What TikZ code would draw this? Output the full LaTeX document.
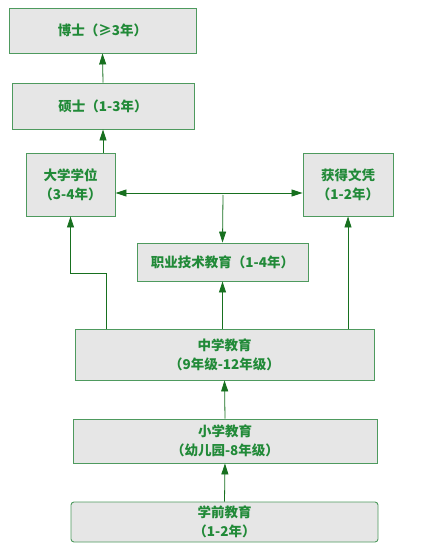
\documentclass[tikz,border=0pt]{standalone}
\usepackage{fontspec}
\setmainfont{Noto Sans CJK SC}
\usepackage{xcolor}
\usetikzlibrary{arrows.meta, positioning}
\definecolor{boxgreen}{HTML}{4E9A5E}
\definecolor{textgreen}{HTML}{218A38}
\definecolor{linegreen}{HTML}{17701F}
\definecolor{boxfill}{HTML}{E6E6E6}

\begin{document}
\begin{tikzpicture}[
  x=1pt, y=-1pt,
  font=\fontsize{13.5}{19}\selectfont\bfseries,
  stage/.style={draw=boxgreen, fill=boxfill, text=textgreen, line width=0.9pt, align=center, inner sep=0pt},
  arrow/.style={-{Triangle[length=11pt, width=7pt]}, linegreen, line width=0.8pt},
]
\useasboundingbox[fill=white] (0,0) rectangle (432,556);

% ============ TOP: graduate degrees ============
\node[stage, minimum width=187pt, minimum height=45pt] (phd)    at (102.5,30.5) {博士（≥3年）};
\node[stage, minimum width=182pt, minimum height=46pt] (master) at (103,106)    {硕士（1-3年）};

% ============ MIDDLE: higher education ============
\node[stage, minimum width=89pt, minimum height=63pt]  (bachelor)   at (70.5,184.5) {大学学位\\（3-4年）};
\node[stage, minimum width=90pt, minimum height=63pt]  (diploma)    at (348,184.5)  {获得文凭\\（1-2年）};
\node[stage, minimum width=171pt, minimum height=38pt] (vocational) at (222.5,262)  {职业技术教育（1-4年）};

% ============ BOTTOM: school ============
\node[stage, minimum width=299pt, minimum height=51pt] (secondary) at (224.5,354.5) {中学教育\\（9年级-12年级）};
\node[stage, minimum width=304pt, minimum height=44pt] (primary)   at (225,441)     {小学教育\\（幼儿园-8年级）};
\node[stage, minimum width=307pt, minimum height=40pt, rounded corners=3pt] (preschool) at (224.5,522) {学前教育\\（1-2年）};

\coordinate (hub)  at (223,195);
\coordinate (bend) at (106,273);

% ============ connectors ============
\draw[arrow] (preschool.north) -- (primary.south);
\draw[arrow] (primary.north) -- (secondary.south);
\draw[arrow] (vocational.south |- secondary.north) -- (vocational.south);
\draw[arrow] (diploma.south |- secondary.north) -- (diploma.south);
\draw[arrow] (secondary.north -| bend) -- (bend) -| (bachelor.south);
\draw[arrow, {Triangle[length=11pt, width=7pt]}-{Triangle[length=11pt, width=7pt]}]
  ([yshift=-8.5pt]bachelor.east) -- ([yshift=-8.5pt]diploma.west);
\draw[arrow] (hub) -- (vocational.north);
\draw[arrow] (master.south |- bachelor.north) -- (master.south);
\draw[arrow] (master.north) -- (phd.south);

\end{tikzpicture}
\end{document}
